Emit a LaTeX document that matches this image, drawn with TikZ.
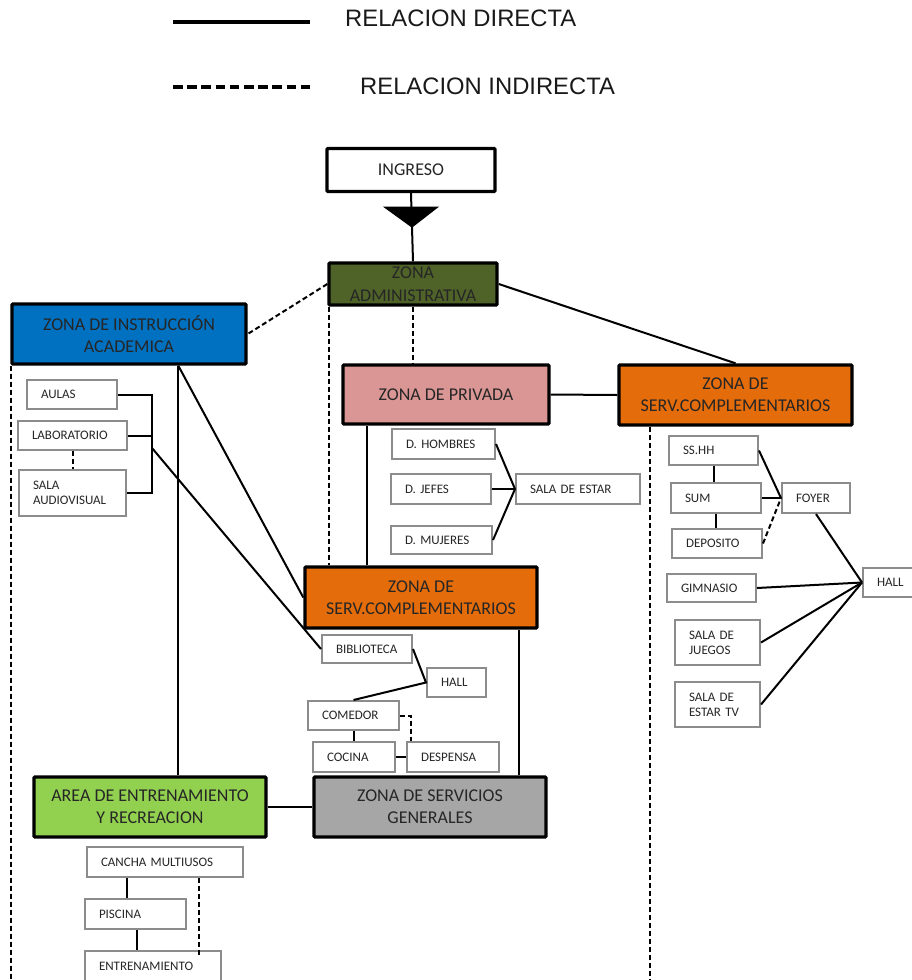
\documentclass[tikz,border=0pt]{standalone}
\usepackage{fontspec}
\setmainfont{Carlito}
\newfontfamily\legendfont{Liberation Sans}
\usepackage{tikz}
\usetikzlibrary{calc}
\definecolor{zinstr}{HTML}{0070C0}
\definecolor{zadmin}{HTML}{4F6228}
\definecolor{zpriv}{HTML}{DA9694}
\definecolor{zserv}{HTML}{E46C0A}
\definecolor{zarea}{HTML}{92D050}
\definecolor{zgen}{HTML}{A6A6A6}
\definecolor{txt}{HTML}{262626}
\definecolor{itemline}{HTML}{8C8C8C}
\frenchspacing

\begin{document}
\begin{tikzpicture}[x=1pt, y=-1pt,
    zona/.style={draw, line width=3.4pt, rounded corners=1pt, inner sep=0pt,
                 align=center, text=txt, font=\fontsize{18}{22}\selectfont},
    item/.style={draw=itemline, line width=2pt, fill=white, inner xsep=14pt,
                 inner ysep=0pt, align=left, text=txt, font=\fontsize{13}{15}\selectfont},
    rel/.style={line width=2pt},
    relind/.style={line width=2pt, dash pattern=on 5pt off 3pt},
    legend/.style={anchor=west, inner sep=0pt, text=black!90,
                   font=\legendfont\fontsize{23.8}{26}\selectfont},
]
    \useasboundingbox (0,0) rectangle (912,980);
    \coordinate (pie) at (456,982);

    % legend
    \coordinate (l1a) at (173,22);
    \coordinate (l1b) at (310,22);
    \coordinate (l2a) at (173,87);
    \coordinate (l2b) at (310,87);
    \draw[line width=4pt] (l1a) -- (l1b);
    \draw[line width=4pt, dash pattern=on 9.5pt off 4.7pt] (l2a) -- (l2b);
    \node[legend] (legdir) at (345,18) {RELACION DIRECTA};
    \node[legend] (legind) at (360,86) {RELACION INDIRECTA};

    % zonas
    \node[zona, fill=white, minimum width=168pt, minimum height=43pt] (ingreso) at (411,170) {INGRESO};
    \node[zona, fill=zadmin, minimum width=168pt, minimum height=42pt] (admin) at (413,284) {ZONA\\[1pt]ADMINISTRATIVA};
    \node[zona, fill=zinstr, minimum width=234pt, minimum height=60pt] (instr) at (129,334) {ZONA DE INSTRUCCIÓN\\ACADEMICA};
    \node[zona, fill=zpriv, minimum width=206pt, minimum height=59pt] (privada) at (446,394.5) {ZONA DE PRIVADA};
    \node[zona, fill=zserv, minimum width=233pt, minimum height=60pt] (servR) at (735.5,395) {ZONA DE\\SERV.COMPLEMENTARIOS};
    \node[zona, fill=zserv, minimum width=232pt, minimum height=61pt] (servC) at (421,597.5) {ZONA DE\\SERV.COMPLEMENTARIOS};
    \node[zona, fill=zarea, minimum width=232pt, minimum height=60pt] (area) at (150,807) {AREA DE ENTRENAMIENTO\\Y RECREACION};
    \node[zona, fill=zgen, minimum width=232pt, minimum height=60pt] (generales) at (430,807) {ZONA DE SERVICIOS\\GENERALES};

    % ambientes
    \node[item, text width=62pt, minimum height=29pt] (aulas) at (72,394.5) {AULAS};
    \node[item, text width=81pt, minimum height=29pt] (lab) at (72.5,435.5) {LABORATORIO};
    \node[item, text width=79pt, minimum height=46pt] (audio) at (72.5,493) {SALA\\AUDIOVISUAL};

    \node[item, text width=75pt, minimum height=30pt] (hombres) at (443.5,444) {D. HOMBRES};
    \node[item, text width=72pt, minimum height=30pt] (jefes) at (441,489) {D. JEFES};
    \node[item, text width=73pt, minimum height=28pt] (mujeres) at (441.5,540) {D. MUJERES};
    \node[item, text width=96pt, minimum height=30pt] (estar) at (578,489) {SALA DE ESTAR};

    \node[item, text width=61pt, minimum height=29pt] (sshh) at (713.5,450.5) {SS.HH};
    \node[item, text width=62pt, minimum height=30pt] (sum) at (716,498) {SUM};
    \node[item, text width=62pt, minimum height=29pt] (deposito) at (717,543.5) {DEPOSITO};
    \node[item, text width=40pt, minimum height=30pt] (foyer) at (816,498) {FOYER};
    \node[item, text width=30pt, minimum height=29pt] (hallR) at (892,582.5) {HALL};
    \node[item, text width=61pt, minimum height=28pt] (gimnasio) at (711.5,588) {GIMNASIO};
    \node[item, text width=57pt, minimum height=45pt] (juegos) at (717.5,642.5) {SALA DE\\JUEGOS};
    \node[item, text width=57pt, minimum height=45pt] (estartv) at (717.5,704.5) {SALA DE\\ESTAR TV};

    \node[item, text width=62pt, minimum height=28pt] (biblio) at (367,649) {BIBLIOTECA};
    \node[item, text width=31pt, minimum height=29pt] (hallC) at (456.5,682.5) {HALL};
    \node[item, text width=63pt, minimum height=29pt] (comedor) at (353.5,715.5) {COMEDOR};
    \node[item, text width=54pt, minimum height=30pt] (cocina) at (354,757) {COCINA};
    \node[item, text width=64pt, minimum height=30pt] (despensa) at (453,757) {DESPENSA};

    \node[item, text width=128pt, minimum height=30pt] (cancha) at (165,862) {CANCHA MULTIUSOS};
    \node[item, text width=73pt, minimum height=30pt] (piscina) at (135.5,914) {PISCINA};
    \node[item, text width=108pt, minimum height=30pt] (entrena) at (153,966) {ENTRENAMIENTO};

    % ingreso
    \draw[rel] (ingreso.south) -- (admin.north);
    \fill ($(ingreso.south)+(-28,13.5)$) -- ++(56,0) -- ($(ingreso.south)+(1,34.5)$) -- cycle;

    % relaciones entre zonas
    \draw[relind] (admin.west) -- (instr.east);
    \draw[rel] (admin.east) -- (servR.north);
    \draw[relind] (admin.south) -- (admin.south |- privada.north);
    \coordinate (a1) at ($(admin.south west)+(1.5,0)$);
    \draw[relind] (a1) -- (a1 |- servC.north);
    \coordinate (p1) at ($(privada.south west)+(26,0)$);
    \draw[rel] (p1) -- (p1 |- servC.north);
    \draw[rel] (privada.east) -- (servR.west);
    \coordinate (i1) at ($(instr.south west)+(168,0)$);
    \draw[rel] (i1) -- (i1 |- area.north);
    \draw[rel] (i1) -- (servC.west);
    \coordinate (iL) at ($(instr.south west)+(0.5,0)$);
    \draw[relind] (iL) -- (iL |- pie);
    \coordinate (s1) at ($(servR.south west)+(33,0)$);
    \draw[relind] (s1) -- (s1 |- pie);
    \coordinate (c1) at ($(servC.south east)+(-20,0)$);
    \draw[rel] (c1) -- (c1 |- generales.north);
    \draw[rel] (area.east) -- (generales.west);

    % instruccion academica
    \coordinate (brk) at (152,448);
    \draw[rel] (aulas.east) -- (aulas.east -| brk) -- (audio.east -| brk) -- (audio.east);
    \draw[rel] (lab.east) -- (lab.east -| brk);
    \draw[relind] (lab.south) -- (audio.north);
    \draw[rel] (brk) -- (biblio.west);

    % zona privada
    \foreach \n in {hombres,jefes,mujeres}
        \draw[rel] (\n.east) -- (estar.west);

    % serv. complementarios (derecha)
    \draw[rel] (sshh.south) -- (sshh.south |- sum.north);
    \draw[rel] (sum.south) -- (sum.south |- deposito.north);
    \draw[rel] (sshh.east) -- (foyer.west);
    \draw[rel] (sum.east) -- (foyer.west);
    \draw[relind] (deposito.east) -- (foyer.west);
    \draw[rel] (foyer.south) -- (hallR.west);
    \foreach \n in {gimnasio,juegos,estartv}
        \draw[rel] (\n.east) -- (hallR.west);

    % serv. complementarios (centro)
    \draw[rel] (biblio.east) -- (hallC.west) -- (comedor.north);
    \draw[rel] (comedor.south) -- (comedor.south |- cocina.north);
    \draw[rel] (cocina.east) -- (despensa.west);
    \coordinate (d1) at ($(despensa.north west)+(5,0)$);
    \draw[relind] (comedor.east) -| (d1);

    % entrenamiento
    \coordinate (k1) at ($(cancha.south west)+(41,0)$);
    \draw[rel] (k1) -- (k1 |- piscina.north);
    \coordinate (k2) at ($(piscina.south west)+(53,0)$);
    \draw[rel] (k2) -- (k2 |- entrena.north);
    \coordinate (k3) at ($(cancha.south west)+(113,0)$);
    \draw[relind] (k3) -- ($(k3 |- entrena.north)+(0,6)$);
\end{tikzpicture}
\end{document}
